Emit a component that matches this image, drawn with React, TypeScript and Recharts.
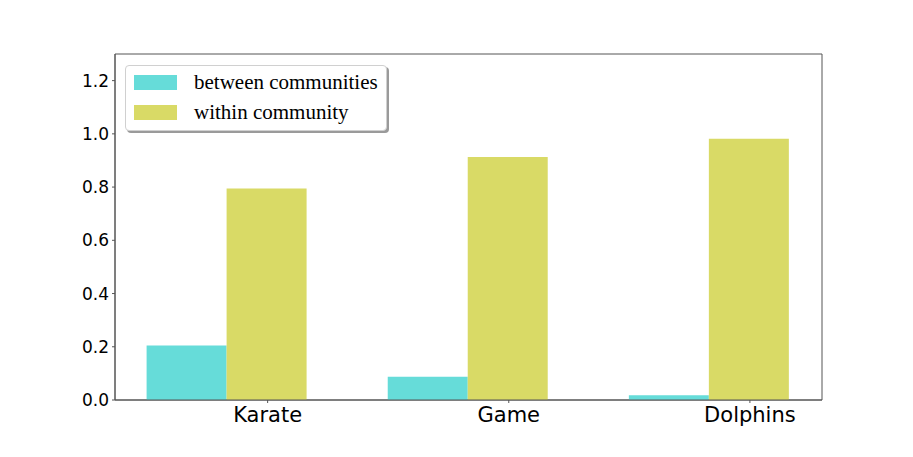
import React from 'react'
import {
  BarChart,
  Bar,
  XAxis,
  YAxis,
  ReferenceArea,
} from 'recharts'

// values
const categories = ['Karate', 'Game', 'Dolphins']
const betweenValues = [0.205, 0.087, 0.018]
const withinValues = [0.795, 0.913, 0.982]
const yTicks = [0, 0.2, 0.4, 0.6, 0.8, 1.0, 1.2]

const seriesNames = ['between communities', 'within community']
const seriesColors = ['#66dcd9', '#d9da66']

// labels sit under the second bar of each group
const TICK_SHIFT = 0.172
const X_DOMAIN: [number, number] = [-0.461, 2.471]

const data = categories.map((name, i) => ({
  x: i,
  name,
  between: betweenValues[i],
  within: withinValues[i],
}))

const xTicks = categories.map((_, i) => i + TICK_SHIFT)

const sans = "'DejaVu Sans', sans-serif"
const serif = "'Liberation Serif', 'Times New Roman', serif"

function LegendBox() {
  return (
    <div
      style={{
        position: 'absolute',
        left: 125,
        top: 65,
        width: 260,
        height: 64,
        border: '1px solid #d0d0d0',
        borderRadius: 4,
        background: '#fff',
        boxShadow: '2px 2px 0 #9a9a9a',
        fontFamily: serif,
        fontSize: 21,
        color: '#000',
      }}
    >
      {seriesNames.map((label, i) => (
        <div
          key={label}
          style={{
            display: 'flex',
            alignItems: 'center',
            height: 30,
            marginTop: i === 0 ? 1 : 0,
          }}
        >
          <div
            style={{
              width: 43,
              height: 15,
              marginLeft: 8,
              marginRight: 17,
              background: seriesColors[i],
            }}
          />
          <span style={{ lineHeight: '30px', whiteSpace: 'nowrap' }}>{label}</span>
        </div>
      ))}
    </div>
  )
}

export default function App() {
  return (
    <div
      style={{
        position: 'absolute',
        left: 0,
        top: 0,
        width: 913,
        height: 457,
        background: '#fff',
      }}
    >
      <BarChart
        width={913}
        height={457}
        data={data}
        margin={{ top: 54, right: 91, left: 0, bottom: 0 }}
        barGap={0}
        barSize={80}
      >
        <XAxis
          dataKey="x"
          type="number"
          domain={X_DOMAIN}
          ticks={xTicks}
          interval={0}
          allowDataOverflow
          height={57}
          tickSize={3}
          tickMargin={4}
          stroke="#555"
          tick={{ fill: '#000', fontSize: 21, fontFamily: sans }}
          tickFormatter={(v: number) => categories[Math.round(v - TICK_SHIFT)]}
        />
        <YAxis
          type="number"
          domain={[0, 1.3]}
          ticks={yTicks}
          interval={0}
          allowDataOverflow
          width={115}
          tickSize={3}
          tickMargin={3}
          stroke="#555"
          tick={{ fill: '#000', fontSize: 17, fontFamily: sans }}
          tickFormatter={(v: number) => v.toFixed(1)}
        />
        <ReferenceArea
          x1={X_DOMAIN[0]}
          x2={X_DOMAIN[1]}
          y1={0}
          y2={1.3}
          fill="none"
          stroke="#555"
          strokeWidth={1}
        />
        <Bar
          dataKey="between"
          name={seriesNames[0]}
          fill={seriesColors[0]}
          isAnimationActive={false}
        />
        <Bar
          dataKey="within"
          name={seriesNames[1]}
          fill={seriesColors[1]}
          isAnimationActive={false}
        />
      </BarChart>
      <LegendBox />
    </div>
  )
}
